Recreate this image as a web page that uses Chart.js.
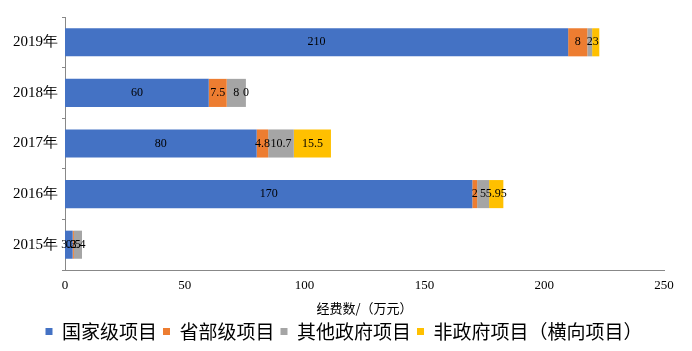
<!DOCTYPE html>
<html>
<head>
<meta charset="utf-8">
<script src="https://cdn.jsdelivr.net/npm/chart.js@4/dist/chart.umd.min.js"></script>
<style>
html,body{margin:0;padding:0;background:#fff;}
#wrap{width:692px;height:351px;position:relative;}
</style>
</head>
<body>
<div id="wrap"><canvas id="c" width="692" height="351"></canvas></div>
<script>
const categories = ["2019年", "2018年", "2017年", "2016年", "2015年"];
const seriesNames = ["国家级项目", "省部级项目", "其他政府项目", "非政府项目（横向项目）"];
const national = [210, 60, 80, 170, 3.2];
const provincial = [8, 7.5, 4.8, 2, 0.5];
const otherGov = [2, 8, 10.7, 5, 3.4];
const nonGov = [3, 0, 15.5, 5.95, null];
const xTicks = [0, 50, 100, 150, 200, 250];
const xTitle = "经费数/（万元）";
const colors = ["#4472C4", "#ED7D31", "#A5A5A5", "#FFC000"];

const serif = "'Liberation Serif', 'Times New Roman', serif";
const cjk = "'Noto Sans CJK SC', sans-serif";

const labelPlugin = {
  id: 'segLabels',
  afterDatasetsDraw(chart) {
    const ctx = chart.ctx;
    ctx.save();
    ctx.fillStyle = '#000';
    ctx.font = "12px " + serif;
    ctx.textAlign = 'center';
    ctx.textBaseline = 'middle';
    chart.data.datasets.forEach((ds, di) => {
      const meta = chart.getDatasetMeta(di);
      meta.data.forEach((el, i) => {
        const v = ds.data[i];
        if (v === null || v === undefined) return;
        const x = (el.x + el.base) / 2;
        ctx.fillText(String(v), x, el.y);
      });
    });
    ctx.restore();
  }
};

new Chart(document.getElementById('c'), {
  type: 'bar',
  data: {
    labels: categories,
    datasets: [national, provincial, otherGov, nonGov].map((d, i) => ({
      label: seriesNames[i],
      data: d,
      backgroundColor: colors[i],
      borderWidth: 0,
      categoryPercentage: 1,
      barPercentage: 0.555,
      yAxisID: 'y'
    }))
  },
  options: {
    indexAxis: 'y',
    responsive: false,
    animation: false,
    devicePixelRatio: 1,
    layout: { padding: { left: 12, right: 16, top: 17, bottom: 0 } },
    plugins: {
      legend: {
        position: 'bottom',
        labels: {
          boxWidth: 7,
          boxHeight: 7,
          padding: 6,
          color: '#000',
          font: { family: cjk, size: 19 }
        }
      },
      tooltip: { enabled: false }
    },
    scales: {
      x: {
        stacked: true,
        min: 0,
        max: 250,
        afterBuildTicks(scale) { scale.ticks = xTicks.map(v => ({ value: v })); },
        afterFit(scale) { scale.height = 46; },
        grid: { display: false, drawTicks: false },
        border: { display: true, color: '#888', width: 1 },
        ticks: { color: '#000', font: { family: serif, size: 13 }, padding: 8 },
        title: { display: true, text: xTitle, color: '#000', font: { family: cjk, size: 13 }, padding: { top: 0, bottom: 0 } }
      },
      y: {
        stacked: true,
        afterFit(scale) { scale.width = 53; },
        grid: { display: true, drawOnChartArea: false, drawTicks: true, tickLength: 3, color: '#888', offset: true },
        border: { display: true, color: '#888', width: 1 },
        ticks: { color: '#000', font: { family: serif, size: 15 }, padding: 4 }
      },
      yRight: {
        type: 'category',
        labels: categories,
        position: 'right',
        afterFit(scale) { scale.width = 12; },
        grid: { display: false },
        border: { display: false },
        ticks: { display: false }
      }
    }
  },
  plugins: [labelPlugin]
});
</script>
</body>
</html>
